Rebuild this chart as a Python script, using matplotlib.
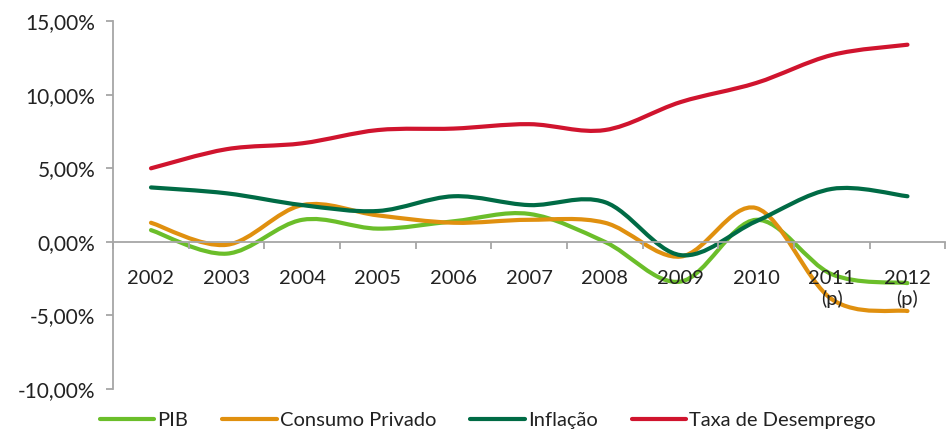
import numpy as np
import matplotlib.pyplot as plt
from matplotlib.path import Path
from matplotlib.patches import PathPatch
from matplotlib.lines import Line2D
from matplotlib.ticker import FuncFormatter

plt.rcParams['font.family'] = ['Lato', 'DejaVu Sans']

anos = ['2002', '2003', '2004', '2005', '2006', '2007', '2008', '2009', '2010', '2011\n(p)', '2012\n(p)']
pib = [0.8, -0.8, 1.5, 0.9, 1.4, 1.9, 0.0, -2.7, 1.5, -2.2, -2.8]
consumo = [1.3, -0.2, 2.5, 1.8, 1.3, 1.5, 1.3, -1.0, 2.3, -3.9, -4.7]
inflacao = [3.7, 3.3, 2.5, 2.1, 3.1, 2.5, 2.7, -0.9, 1.4, 3.6, 3.1]
desemprego = [5.0, 6.3, 6.7, 7.6, 7.7, 8.0, 7.6, 9.5, 10.8, 12.7, 13.4]

series = [('PIB', pib, '#6BBE2A'),
          ('Consumo Privado', consumo, '#E0900F'),
          ('Inflação', inflacao, '#006B45'),
          ('Taxa de Desemprego', desemprego, '#D0142E')]


def curva_suave(x, y):
    # bezier ao estilo do excel (linha suavizada)
    p = np.column_stack([x, y])
    pts = np.vstack([p[0], p, p[-1]])
    verts = [tuple(p[0])]
    codes = [Path.MOVETO]
    for i in range(1, len(pts) - 2):
        c1 = pts[i] + (pts[i + 1] - pts[i - 1]) / 6
        c2 = pts[i + 1] - (pts[i + 2] - pts[i]) / 6
        verts += [tuple(c1), tuple(c2), tuple(pts[i + 1])]
        codes += [Path.CURVE4] * 3
    return Path(verts, codes)


fig = plt.figure(figsize=(9.51, 4.32), dpi=100)
ax = fig.add_axes([0.119, 0.0995, 0.875, 0.8515])
x = np.arange(len(anos))

handles = []
for nome, vals, cor in series:
    ax.add_patch(PathPatch(curva_suave(x, vals), facecolor='none', edgecolor=cor,
                           lw=3.0, capstyle='round', joinstyle='round'))
    handles.append(Line2D([], [], color=cor, lw=3.0, solid_capstyle='round', label=nome))

ax.set_xlim(-0.5, len(anos) - 0.5)
ax.set_ylim(-10, 15)
ax.set_yticks(np.arange(-10, 16, 5))
ax.yaxis.set_major_formatter(FuncFormatter(lambda v, _: ('%.2f' % v).replace('.', ',') + '%'))

cinza = '#A6A6A6'
for s in ['top', 'right']:
    ax.spines[s].set_visible(False)
ax.spines['left'].set_color(cinza)
ax.spines['bottom'].set_color(cinza)
ax.spines['bottom'].set_position(('data', 0))
ax.spines['left'].set_linewidth(1.3)
ax.spines['bottom'].set_linewidth(1.3)

ax.set_xticks(np.arange(-0.5, len(anos)), labels=[])
ax.set_xticks(x, labels=anos, minor=True)
ax.tick_params(axis='x', which='major', direction='out', length=5, color=cinza, width=1.3)
ax.tick_params(axis='x', which='minor', length=0, pad=20, labelsize=14.5, colors='#222222')
ax.tick_params(axis='y', direction='out', length=5, color=cinza, width=1.3, pad=8,
               labelsize=15, labelcolor='#222222')

fig.legend(handles=handles, loc='center', bbox_to_anchor=(0.513, 0.027), ncol=4, frameon=False,
           fontsize=14.5, handlelength=2.7, handletextpad=0.15, columnspacing=1.7,
           labelcolor='#222222')

fig.savefig('out.png', dpi=100)
